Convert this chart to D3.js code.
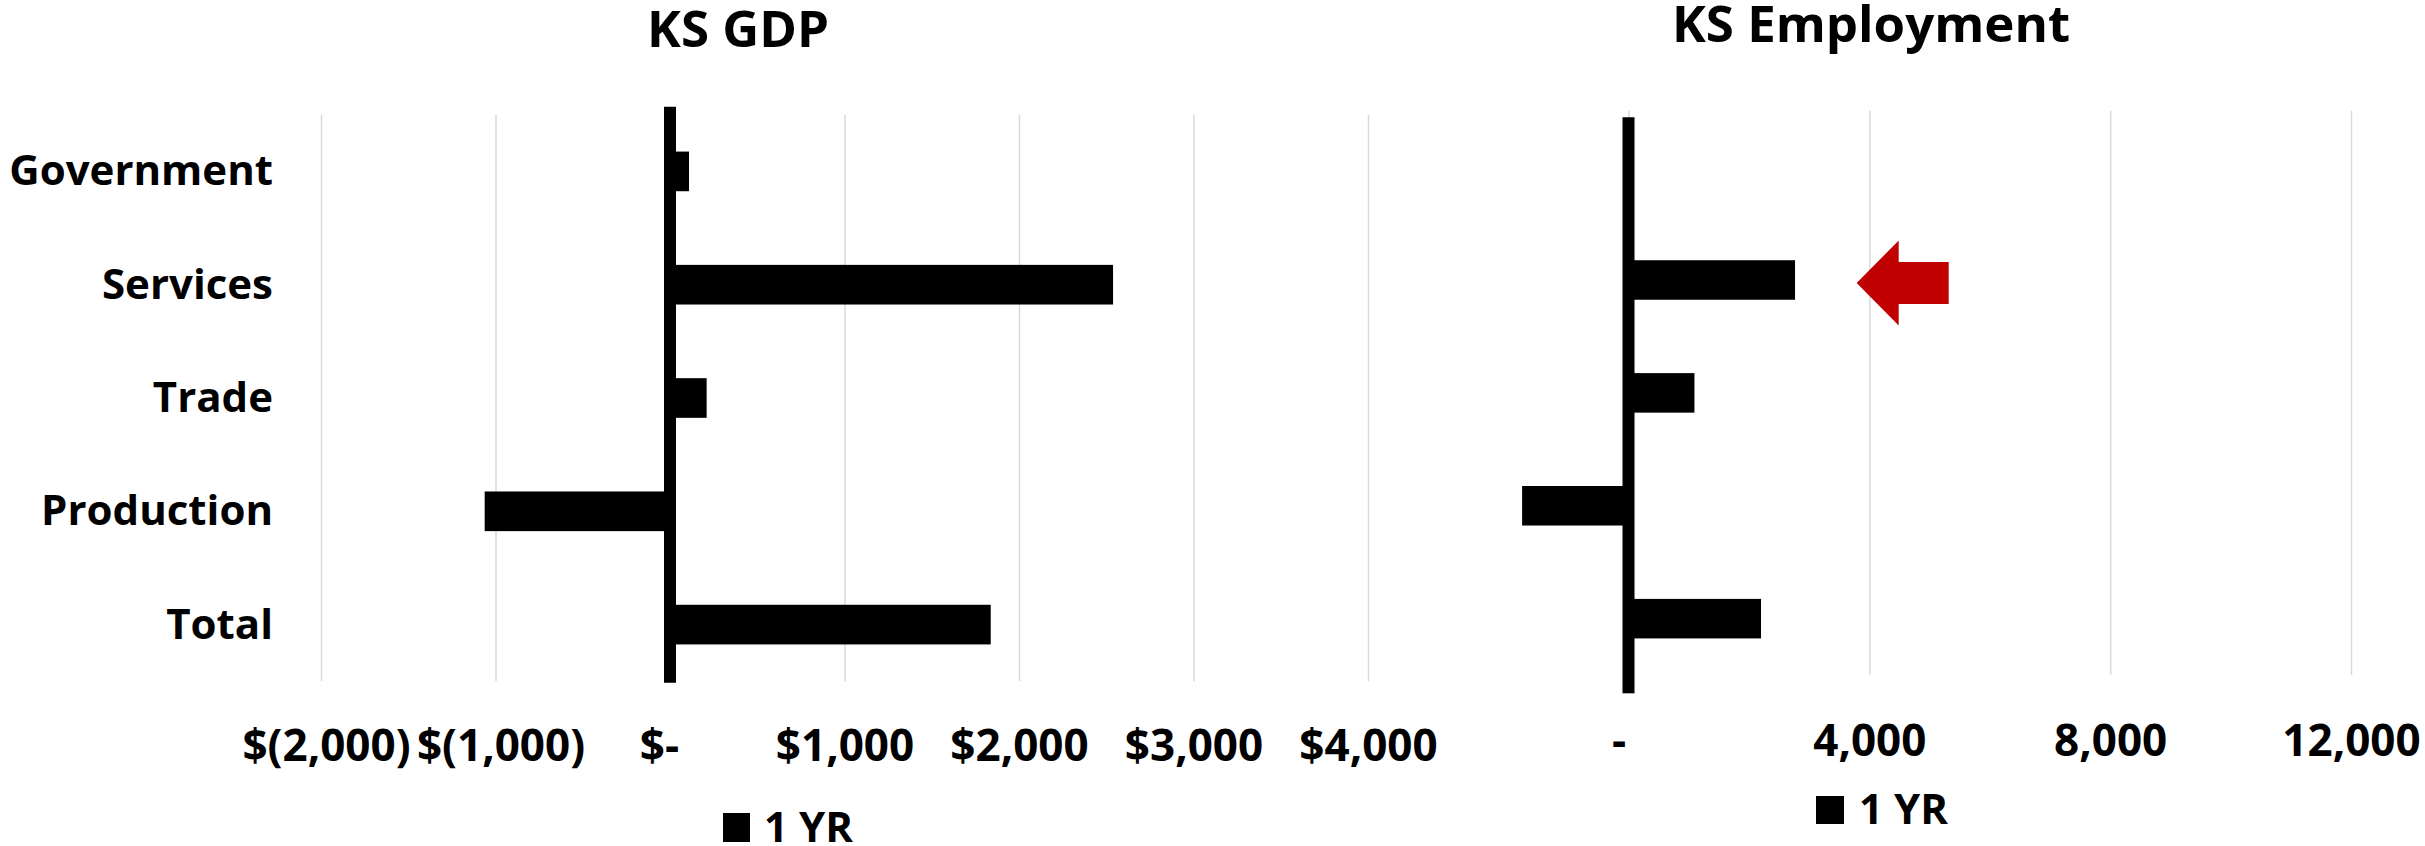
<!DOCTYPE html>
<html>
<head>
<meta charset="utf-8">
<script src="https://cdn.jsdelivr.net/npm/d3@7"></script>
<style>
  html, body { margin: 0; padding: 0; background: #ffffff; }
  svg text { font-family: 'Open Sans', 'Noto Sans', sans-serif; font-weight: 700; fill: #000; }
</style>
</head>
<body>
<svg id="chart" width="2425" height="846"></svg>
<script>
// ---------- data ----------
const categories = ["Government", "Services", "Trade", "Production", "Total"];
const gdpValues = [109, 2539, 210, -1062, 1838];
const empValues = [0, 2766, 1095, -1767, 2201];
const gdpTicks = [-2000, -1000, 0, 1000, 2000, 3000, 4000];
const gdpTickLabels = ["$(2,000)", "$(1,000)", "$-", "$1,000", "$2,000", "$3,000", "$4,000"];
const empTicks = [0, 4000, 8000, 12000];
const empTickLabels = ["-", "4,000", "8,000", "12,000"];
const chartTitles = ["KS GDP", "KS Employment"];
const seriesName = "1 YR";
const highlightCategory = "Services";

// ---------- layout ----------
const svg = d3.select("#chart");
svg.append("rect").attr("width", 2425).attr("height", 846).attr("fill", "#fff");

const panels = [
  {
    title: chartTitles[0], titleX: 738, titleY: 47,
    values: gdpValues, ticks: gdpTicks, tickLabels: gdpTickLabels,
    domain: [-2000, 4000], range: [321, 1368],
    yRange: [114.75, 681.25],
    axisExt: [-8, 1.5],
    tickY: 761, tickFont: 44,
    tickShift: d => d < 0 ? 5 : (d === 0 ? -11 : 0),
    showCats: true,
    legend: { x: 723, y: 813, size: 27, h: 29, textX: 764, textY: 842 }
  },
  {
    title: chartTitles[1], titleX: 1871, titleY: 42,
    values: empValues, ticks: empTicks, tickLabels: empTickLabels,
    domain: [0, 12000], range: [1628.5, 2351],
    yRange: [110.65, 675.1],
    axisExt: [6.6, 18.2],
    tickY: 756, tickFont: 44,
    tickShift: d => d === 0 ? -10 : 0,
    showCats: false,
    legend: { x: 1816, y: 796, size: 28, h: 28, textX: 1859, textY: 824 }
  }
];

panels.forEach((p, pi) => {
  const x = d3.scaleLinear().domain(p.domain).range(p.range);
  const y = d3.scaleBand().domain(categories).range(p.yRange)
    .paddingInner(0.65).paddingOuter(0.325);
  const g = svg.append("g");

  // gridlines
  const grid = g.append("g")
    .attr("transform", `translate(0,${p.yRange[1]})`)
    .call(d3.axisBottom(x).tickValues(p.ticks)
      .tickSize(-(p.yRange[1] - p.yRange[0])).tickFormat(""));
  grid.select(".domain").remove();
  grid.selectAll("line").attr("stroke", "#d9d9d9").attr("stroke-width", 1.5);

  // tick labels
  const ax = g.append("g")
    .attr("transform", `translate(0,${p.tickY})`)
    .call(d3.axisBottom(x).tickValues(p.ticks).tickSize(0).tickPadding(0)
      .tickFormat((d, i) => p.tickLabels[i]));
  ax.select(".domain").remove();
  ax.selectAll("line").remove();
  ax.selectAll("text")
    .attr("y", 0).attr("dy", 0)
    .attr("dx", d => p.tickShift(d))
    .attr("font-size", p.tickFont)
    .attr("font-family", "'Open Sans', sans-serif")
    .attr("font-weight", 700)
    .attr("fill", "#000");

  // bars
  g.append("g").selectAll("rect")
    .data(categories.map((c, i) => ({ c, v: p.values[i] })))
    .join("rect")
    .attr("x", d => Math.min(x(0), x(d.v)))
    .attr("width", d => Math.abs(x(d.v) - x(0)))
    .attr("y", d => y(d.c))
    .attr("height", y.bandwidth())
    .attr("fill", "#000");

  // category axis line (thick)
  g.append("rect")
    .attr("x", x(0) - 6)
    .attr("width", 12)
    .attr("y", p.yRange[0] + p.axisExt[0])
    .attr("height", (p.yRange[1] + p.axisExt[1]) - (p.yRange[0] + p.axisExt[0]))
    .attr("fill", "#000");

  // category labels
  if (p.showCats) {
    g.append("g").selectAll("text")
      .data(categories)
      .join("text")
      .attr("x", 273)
      .attr("y", d => y(d) + y.bandwidth() / 2 + 14)
      .attr("text-anchor", "end")
      .attr("font-size", 42)
      .text(d => d);
  }

  // title
  g.append("text")
    .attr("x", p.titleX).attr("y", p.titleY)
    .attr("text-anchor", "middle")
    .attr("font-size", 51)
    .text(p.title);

  // legend
  g.append("rect")
    .attr("x", p.legend.x).attr("y", p.legend.y)
    .attr("width", p.legend.size).attr("height", p.legend.h)
    .attr("fill", "#000");
  g.append("text")
    .attr("x", p.legend.textX).attr("y", p.legend.textY)
    .attr("font-size", 42)
    .text(seriesName);

  // highlight arrow on employment chart
  if (pi === 1) {
    const cy = y(highlightCategory) + y.bandwidth() / 2 + 3;
    const tipX = x(3790);
    const headLen = 42, headHalf = 42.5, shaftHalf = 21, shaftLen = 50;
    const pts = [
      [tipX, cy],
      [tipX + headLen, cy - headHalf],
      [tipX + headLen, cy - shaftHalf],
      [tipX + headLen + shaftLen, cy - shaftHalf],
      [tipX + headLen + shaftLen, cy + shaftHalf],
      [tipX + headLen, cy + shaftHalf],
      [tipX + headLen, cy + headHalf]
    ];
    g.append("polygon")
      .attr("points", pts.map(q => q.join(",")).join(" "))
      .attr("fill", "#C00000");
  }
});
</script>
</body>
</html>
